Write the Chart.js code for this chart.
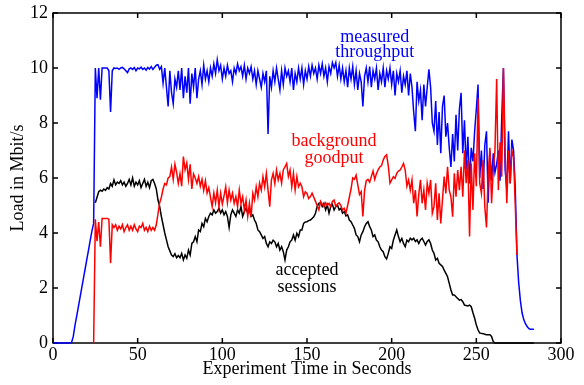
<!DOCTYPE html>
<html>
<head>
<meta charset="utf-8">
<script src="https://cdn.jsdelivr.net/npm/chart.js@4.4.1/dist/chart.umd.min.js"></script>
<style>
  html, body { margin: 0; padding: 0; background: #fff; }
  canvas { display: block; }
</style>
</head>
<body>
<canvas id="load-chart" width="584" height="385"></canvas>
<script>
// --- Data (one sample per second, null = series not running) ---
const seconds = Array.from({ length: 285 }, (_, i) => i);

const measuredThroughput = [
  0, 0, 0, 0, 0, 0, 0, 0, 0, 0,                                  // 0
  0, 0.02, 0.25, 0.65, 0.98, 1.32, 1.67, 2.01, 2.36, 2.7,        // 10
  3.05, 3.39, 3.74, 4.08, 4.35, 10.0, 8.9, 10.0, 8.85, 10.0,     // 20
  10.0, 10.0, 10.0, 9.9, 8.4, 9.9, 10.0, 9.98, 10.0, 9.95,       // 30
  10.0, 10.02, 9.97, 9.9, 9.83, 9.97, 10.0, 9.95, 10.02, 9.9,    // 40
  10.0, 9.97, 10.03, 9.95, 10.0, 9.92, 10.02, 9.96, 10.05, 9.95, // 50
  10.03, 10.1, 10.12, 9.95, 10.05, 9.45, 10.0, 9.3, 8.6, 9.9,    // 60
  9.1, 8.7, 9.6, 9.3, 9.9, 9.2, 10.0, 8.9, 9.7, 9.1,             // 70
  10.0, 8.7, 9.8, 9.3, 10.0, 8.9, 9.6, 9.9, 9.4, 10.1,           // 80
  9.6, 9.9, 9.5, 10.0, 9.7, 10.15, 9.8, 10.3, 9.9, 10.1,         // 90
  9.6, 10.0, 9.7, 10.1, 9.8, 9.9, 9.5, 10.0, 9.8, 10.15,         // 100
  9.9, 10.05, 9.7, 10.1, 9.6, 10.0, 9.8, 10.05, 9.6, 9.9,        // 110
  9.4, 9.9, 9.6, 9.3, 9.8, 9.5, 9.9, 7.6, 9.7, 9.3,              // 120
  9.9, 9.5, 10.0, 9.6, 9.2, 9.9, 9.4, 10.0, 9.7, 9.9,            // 130
  9.5, 10.0, 9.2, 9.8, 9.5, 10.0, 9.6, 10.0, 9.4, 9.9,           // 140
  9.6, 10.05, 9.7, 10.1, 9.8, 10.0, 9.6, 10.1, 9.8, 10.15,       // 150
  9.7, 10.0, 9.5, 10.05, 9.8, 10.2, 10.0, 10.2, 9.7, 10.1,       // 160
  9.6, 10.0, 9.5, 9.9, 9.3, 10.0, 9.6, 10.05, 9.4, 9.9,          // 170
  9.2, 9.8, 9.5, 8.6, 9.7, 10.0, 9.5, 10.05, 9.3, 9.9,           // 180
  9.6, 10.0, 9.2, 9.8, 9.5, 10.0, 9.3, 9.9, 9.6, 10.0,           // 190
  9.4, 9.9, 9.0, 9.8, 9.5, 9.9, 9.1, 9.7, 9.4, 9.9,              // 200
  9.0, 9.8, 9.3, 8.4, 7.7, 9.5, 8.8, 9.2, 8.1, 9.4,              // 210
  8.6, 9.3, 9.95, 9.3, 8.0, 7.7, 8.8, 7.2, 8.4, 6.9,             // 220
  8.6, 9.0, 7.5, 8.0, 7.1, 6.4, 7.6, 6.6, 8.3, 7.0,              // 230
  8.5, 9.1, 6.9, 8.1, 6.3, 7.5, 5.8, 7.1, 6.6, 7.7,              // 240
  8.5, 9.4, 6.0, 7.0, 5.6, 7.2, 7.7, 5.1, 7.0, 5.9,              // 250
  6.9, 6.2, 6.5, 7.0, 5.9, 8.2, 10.0, 6.3, 5.6, 7.7,             // 260
  5.8, 7.4, 7.0, 5.6, 3.2, 2.2, 1.55, 1.1, 0.85, 0.7,            // 270
  0.6, 0.52, 0.5, 0.5, 0.5                                       // 280
];

const backgroundGoodput = [
  null, null, null, null, null, null, null, null, null, null,    // 0
  null, null, null, null, null, null, null, null, null, null,    // 10
  null, null, null, null, 0, 4.5, 3.7, 4.4, 3.5, 4.53,           // 20
  4.53, 4.53, 4.53, 4.5, 2.9, 4.3, 4.2, 4.3, 4.1, 4.25,          // 30
  4.15, 4.3, 4.05, 4.2, 4.3, 4.1, 4.25, 4.1, 4.3, 4.15,          // 40
  4.05, 4.25, 4.2, 4.35, 4.1, 4.2, 4.05, 4.25, 4.1, 4.2,         // 50
  4.1, 4.3, 4.7, 5.1, 5.3, 5.6, 5.8, 5.75, 6.0, 6.05,            // 60
  6.4, 5.95, 6.5, 6.2, 5.8, 6.15, 5.7, 6.78, 6.3, 6.55,          // 70
  5.95, 6.5, 5.6, 6.15, 6.0, 5.8, 6.05, 5.7, 5.95, 5.55,         // 80
  5.9, 5.45, 5.65, 5.3, 4.96, 5.45, 5.1, 5.56, 4.96, 5.45,       // 90
  5.05, 5.35, 5.68, 5.1, 5.56, 5.2, 5.45, 5.08, 5.32, 4.96,      // 100
  5.56, 5.08, 5.32, 4.84, 5.2, 4.6, 5.08, 4.59, 5.44, 5.2,       // 110
  5.68, 5.32, 5.81, 5.56, 6.05, 5.68, 6.17, 5.56, 4.96, 5.93,    // 120
  6.17, 5.8, 6.29, 5.93, 6.17, 5.81, 6.29, 6.41, 6.53, 6.05,     // 130
  6.29, 5.68, 6.17, 5.56, 6.05, 5.68, 5.81, 5.68, 5.32, 5.5,     // 140
  5.44, 5.25, 5.32, 5.45, 5.3, 5.15, 5.0, 4.84, 5.15, 5.05,      // 150
  4.96, 5.1, 5.0, 5.08, 4.96, 5.15, 5.2, 4.96, 5.05, 5.1,        // 160
  5.0, 4.84, 4.9, 4.72, 5.0, 5.3, 5.6, 6.0, 5.95, 6.1,           // 170
  5.75, 5.4, 5.5, 4.6, 5.55, 5.9, 5.95, 5.85, 6.05, 6.25,        // 180
  5.95, 6.15, 6.3, 6.4, 6.45, 6.65, 6.78, 6.84, 6.45, 5.81,      // 190
  5.93, 6.05, 5.99, 6.17, 6.25, 6.29, 6.4, 6.53, 6.29, 5.7,      // 200
  5.93, 5.56, 5.93, 5.08, 5.56, 4.6, 5.4, 5.93, 5.08, 5.56,      // 210
  4.84, 5.81, 5.44, 5.93, 4.72, 4.96, 5.81, 4.47, 5.44, 4.35,    // 220
  5.2, 6.05, 5.44, 6.41, 5.56, 5.32, 4.59, 6.17, 5.32, 6.29,     // 230
  5.56, 6.41, 5.32, 7.0, 5.81, 6.65, 3.87, 6.53, 4.84, 6.9,      // 240
  5.7, 8.9, 5.81, 5.44, 6.65, 4.96, 4.2, 6.05, 7.1, 5.08,        // 250
  6.29, 7.0, 9.6, 5.56, 7.3, 6.05, 10.0, 7.0, 5.08, 7.0,         // 260
  5.81, 7.0, 6.75, 5.0, 3.2, null, null, null, null, null,       // 270
  null, null, null, null, null                                   // 280
];

const acceptedSessions = [
  null, null, null, null, null, null, null, null, null, null,    // 0
  null, null, null, null, null, null, null, null, null, null,    // 10
  null, null, null, null, null, 5.1, 5.3, 5.5, 5.56, 5.52,       // 20
  5.6, 5.55, 5.65, 5.6, 5.8, 5.7, 5.93, 5.75, 5.85, 5.8,         // 30
  5.9, 5.75, 5.85, 5.7, 5.8, 5.95, 5.75, 6.0, 5.7, 5.85,         // 40
  5.75, 5.9, 5.65, 5.8, 5.95, 5.7, 5.85, 5.65, 5.9, 5.95,        // 50
  5.8, 5.6, 5.2, 4.96, 4.6, 4.3, 4.0, 3.75, 3.5, 3.35,           // 60
  3.2, 3.14, 3.25, 3.1, 3.18, 3.1, 3.26, 3.02, 3.2, 3.08,        // 70
  3.38, 3.2, 3.62, 3.68, 3.87, 3.68, 4.11, 4.05, 4.35, 4.23,     // 80
  4.53, 4.41, 4.6, 4.72, 4.66, 4.84, 4.72, 4.78, 4.9, 4.72,      // 90
  4.84, 4.66, 4.78, 4.6, 4.2, 4.66, 4.84, 4.72, 4.6, 4.84,       // 100
  4.72, 4.96, 4.6, 4.78, 4.9, 4.72, 4.84, 4.6, 4.66, 4.47,       // 110
  4.35, 4.11, 4.05, 3.93, 3.8, 3.87, 3.62, 3.5, 3.68, 3.62,      // 120
  3.74, 3.68, 3.5, 3.62, 3.38, 3.5, 3.32, 3.02, 3.38, 3.5,       // 130
  3.68, 3.74, 3.93, 3.74, 3.99, 3.87, 4.11, 4.11, 4.35, 4.4,     // 140
  4.41, 4.45, 4.47, 4.53, 4.59, 4.72, 4.96, 5.08, 5.1, 4.96,     // 150
  5.08, 4.84, 5.02, 4.72, 4.96, 5.04, 4.84, 4.96, 5.02, 4.84,    // 160
  4.9, 4.72, 4.78, 4.62, 4.66, 4.47, 4.41, 4.29, 4.17, 3.93,     // 170
  3.87, 3.68, 3.93, 4.05, 4.23, 4.35, 4.41, 4.23, 4.11, 3.87,    // 180
  3.93, 3.74, 3.68, 3.5, 3.38, 3.32, 3.14, 3.06, 3.26, 3.5,      // 190
  3.44, 3.74, 3.93, 4.11, 3.87, 3.68, 3.8, 3.62, 3.5, 3.74,      // 200
  3.68, 3.81, 3.75, 3.81, 3.69, 3.75, 3.62, 3.75, 3.81, 3.69,    // 210
  3.56, 3.69, 3.75, 3.62, 3.38, 3.26, 3.02, 3.08, 2.9, 2.84,     // 220
  2.78, 2.65, 2.53, 2.41, 2.17, 1.93, 1.75, 1.75, 1.68, 1.62,    // 230
  1.56, 1.58, 1.5, 1.38, 1.36, 1.35, 1.38, 1.32, 1.1, 0.9,       // 240
  0.65, 0.48, 0.36, 0.35, 0.34, 0.32, 0.3, 0.3, 0.3, 0.24,       // 250
  0.05, 0, 0, 0, 0, 0, 0, 0, 0, 0,                               // 260
  0, 0, 0, 0, 0, 0, 0, 0, 0, 0,                                  // 270
  0, 0, 0, 0, 0                                                  // 280
];

const xTicks = [0, 50, 100, 150, 200, 250, 300];
const yTicks = [0, 2, 4, 6, 8, 10, 12];

// in-plot labels, placed in data units
const notes = [
  { text: 'measured', t: 190, v: 11.13, color: '#0000ff' },
  { text: 'throughput', t: 190, v: 10.58, color: '#0000ff' },
  { text: 'background', t: 166, v: 7.35, color: '#ff0000' },
  { text: 'goodput', t: 166, v: 6.73, color: '#ff0000' },
  { text: 'accepted', t: 150, v: 2.65, color: '#000000' },
  { text: 'sessions', t: 150, v: 2.04, color: '#000000' }
];

const FONT = '"Liberation Serif", "Times New Roman", serif';

function toPoints(values) {
  return seconds.map((t, i) => ({ x: t, y: values[i] }));
}

// --- Frame with inward ticks + text labels ---
const framePlugin = {
  id: 'frame',
  beforeDatasetsDraw(chart) {
    const { ctx, chartArea: a, scales: { x, y } } = chart;
    ctx.save();
    ctx.strokeStyle = '#000';
    ctx.lineWidth = 1.5;
    ctx.strokeRect(a.left, a.top, a.right - a.left, a.bottom - a.top);
    ctx.beginPath();
    xTicks.forEach(v => {
      const px = x.getPixelForValue(v);
      ctx.moveTo(px, a.bottom); ctx.lineTo(px, a.bottom - 5);
      ctx.moveTo(px, a.top); ctx.lineTo(px, a.top + 5);
    });
    yTicks.forEach(v => {
      const py = y.getPixelForValue(v);
      ctx.moveTo(a.left, py); ctx.lineTo(a.left + 5, py);
      ctx.moveTo(a.right, py); ctx.lineTo(a.right - 5, py);
    });
    ctx.stroke();
    ctx.restore();
  },
  afterDatasetsDraw(chart) {
    const { ctx, scales: { x, y } } = chart;
    ctx.save();
    ctx.font = '18px ' + FONT;
    ctx.textAlign = 'center';
    ctx.textBaseline = 'middle';
    notes.forEach(n => {
      ctx.fillStyle = n.color;
      ctx.fillText(n.text, x.getPixelForValue(n.t), y.getPixelForValue(n.v));
    });
    ctx.restore();
  }
};

new Chart(document.getElementById('load-chart'), {
  type: 'line',
  data: {
    datasets: [
      {
        label: 'background goodput',
        data: toPoints(backgroundGoodput),
        borderColor: '#ff0000'
      },
      {
        label: 'accepted sessions',
        data: toPoints(acceptedSessions),
        borderColor: '#000000'
      },
      {
        label: 'measured throughput',
        data: toPoints(measuredThroughput),
        borderColor: '#0000ff'
      }
    ]
  },
  options: {
    responsive: false,
    animation: false,
    layout: { padding: { top: 13, right: 23, left: 0, bottom: 0 } },
    elements: {
      point: { radius: 0 },
      line: { borderWidth: 1.5, tension: 0, fill: false }
    },
    datasets: { line: { clip: false, spanGaps: false } },
    plugins: {
      legend: { display: false },
      tooltip: { enabled: false }
    },
    scales: {
      x: {
        type: 'linear',
        min: 0,
        max: 300,
        afterBuildTicks: s => { s.ticks = xTicks.map(v => ({ value: v })); },
        afterFit: s => { s.height = 42; s.paddingLeft = 0; s.paddingRight = 0; },
        grid: { display: false, drawTicks: false },
        border: { display: false },
        ticks: { color: '#000', font: { family: FONT, size: 18 }, padding: 1, maxRotation: 0 },
        title: {
          display: true,
          text: 'Experiment Time in Seconds',
          color: '#000',
          font: { family: FONT, size: 18 },
          padding: { top: 0, bottom: 5 }
        }
      },
      y: {
        min: 0,
        max: 12,
        afterBuildTicks: s => { s.ticks = yTicks.map(v => ({ value: v })); },
        afterFit: s => { s.width = 53; s.paddingTop = 0; s.paddingBottom = 0; },
        grid: { display: false, drawTicks: false },
        border: { display: false },
        ticks: { color: '#000', font: { family: FONT, size: 18 }, padding: 5 },
        title: {
          display: true,
          text: 'Load in Mbit/s',
          color: '#000',
          font: { family: FONT, size: 18 },
          padding: { top: 7, bottom: 0 }
        }
      }
    }
  },
  plugins: [framePlugin]
});
</script>
</body>
</html>
